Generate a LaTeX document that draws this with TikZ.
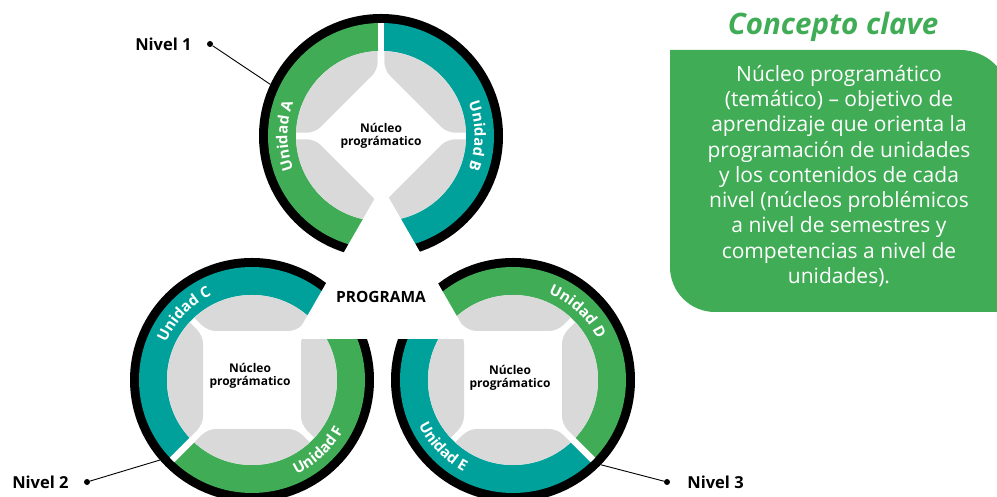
\documentclass[tikz,border=0pt]{standalone}
\usepackage{fontspec}
\setmainfont{Open Sans}
\usetikzlibrary{positioning, calc, decorations.text}
\definecolor{verde}{RGB}{64,172,86}
\definecolor{turquesa}{RGB}{0,161,154}
\definecolor{gris}{RGB}{217,217,217}
\newcommand\unidadfont{\fontsize{15}{15}\selectfont\bfseries}

\begin{document}
\begin{tikzpicture}[x=1pt, y=1pt,
    nucleo/.style = {font=\fontsize{12}{13}\selectfont\bfseries, align=center, inner sep=0pt},
     nivel/.style = {font=\fontsize{16.5}{18}\selectfont\bfseries, inner sep=0pt},
     punto/.style = {circle, fill=black, inner sep=0pt, minimum size=6pt},
      guia/.style = {line width=0.9pt},
    unidad/.style = {decorate, decoration={text along path, text align=center,
                     text color=white, text={|\unidadfont|#1}}},
     hueco/.style = {white, line width=6.7pt},
    titulo/.style = {font=\fontsize{29.5}{31}\selectfont\bfseries\itshape, text=verde},
definicion/.style = {font=\fontsize{21}{25.3}\selectfont, text=white, align=center}
                    ]
\useasboundingbox (0,0) rectangle (997,497);

\coordinate (c1) at (381,361);
\coordinate (c2) at (252,117);
\coordinate (c3) at (513,117);

% niveles
\foreach \c/\rot/\gap/\colA/\colB in {c1/45/90/verde/turquesa,
                                      c2/0/45/turquesa/verde,
                                      c3/0/-45/verde/turquesa}{
  \fill (\c) circle (122);
  \fill[\colA] (\c) -- ++(\gap:113) arc[start angle=\gap, delta angle=180, radius=113] -- cycle;
  \fill[\colB] (\c) -- ++(\gap+180:113) arc[start angle=\gap+180, delta angle=180, radius=113] -- cycle;
  \fill[white] (\c) circle (85);
  \draw[hueco] (\c) -- ++(\gap:113) (\c) -- ++(\gap+180:113);
  \foreach \a in {0,90,180,270}
    \fill[gris, shift={(\c)}, rotate=\rot+\a]
      (47.26:85) arc[start angle=47.26, end angle=132.74, radius=85]
      [rounded corners=8] -- (-44.3,49) -- (44.3,49) -- (47.26:85);
}

\path[unidad={Unidad A}] ($(c1)+(210:93.6)$) arc[start angle=210, end angle=150, radius=93.6];
\path[unidad={Unidad B}] ($(c1)+(30:93.6)$) arc[start angle=30, end angle=-30, radius=93.6];
\path[unidad={Unidad C}] ($(c2)+(166:93.6)$) arc[start angle=166, end angle=106, radius=93.6];
\path[unidad={Unidad F}] ($(c2)+(-76.7:104.4)$) arc[start angle=-76.7, end angle=-16.7, radius=104.4];
\path[unidad={Unidad D}] ($(c3)+(76.7:93.6)$) arc[start angle=76.7, end angle=16.7, radius=93.6];
\path[unidad={Unidad E}] ($(c3)+(193.7:104.4)$) arc[start angle=193.7, end angle=253.7, radius=104.4];

\node[nucleo] (nucleo1) at (381,361) {Núcleo\\prográmatico};
\node[nucleo] (nucleo2) at (250,121) {Núcleo\\prográmatico};
\node[nucleo] (nucleo3) at (510,119) {Núcleo\\prográmatico};

% programa
\fill[white] (294,158) -- (382,311) -- (470,158) -- cycle;
\node[font=\fontsize{15.5}{17}\selectfont\bfseries] (programa) at (381,200) {PROGRAMA};

\node[punto] (p1) at (210,453) {};
\node[punto] (p2) at (87,15) {};
\node[punto] (p3) at (667,15) {};
\node[nivel, left=15pt of p1] (n1) {Nivel 1};
\node[nivel, left=15pt of p2] (n2) {Nivel 2};
\node[nivel, right=17pt of p3] (n3) {Nivel 3};
\draw[guia] (p1) -- ($(c1)+(155:122)$);
\draw[guia] (p2) -- ($(c2)+(221:122)$);
\draw[guia] (p3) -- ($(c3)+(-44:122)$);

% concepto clave
\node[titulo] (clave) at (833,470) {Concepto clave};
\fill[verde] (670,447) -- (960,447) arc[start angle=90, end angle=0, radius=50]
  -- (1010,185) -- (715,185) arc[start angle=270, end angle=180, radius=45] -- cycle;
\node[definicion] (def) at (839,321) {Núcleo programático\\(temático) – objetivo de\\aprendizaje que orienta la\\programación de unidades\\y los contenidos de cada\\nivel (núcleos problémicos\\a nivel de semestres y\\competencias a nivel de\\unidades).};
\end{tikzpicture}
\end{document}
